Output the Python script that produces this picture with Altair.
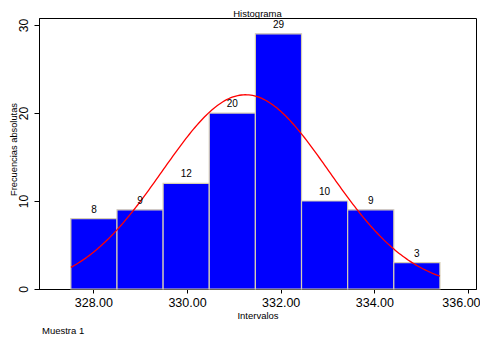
import altair as alt
import numpy as np
import pandas as pd

# Histogram data
edges = [327.52, 328.505, 329.49, 330.475, 331.46, 332.445, 333.43, 334.415, 335.40]
counts = [8, 9, 12, 20, 29, 10, 9, 3]

# Fitted normal curve parameters
mean = 331.25
sd = 1.78
n_total = sum(counts)
bin_w = (edges[-1] - edges[0]) / len(counts)

x_ticks = [328, 330, 332, 334, 336]
y_ticks = [0, 10, 20, 30]

bars = pd.DataFrame({
    "start": edges[:-1],
    "end": edges[1:],
    "count": counts,
})
bars["mid"] = (bars["start"] + bars["end"]) / 2

xs = np.linspace(edges[0], edges[-1], 200)
curve = pd.DataFrame({
    "x": xs,
    "y": n_total * bin_w / (sd * np.sqrt(2 * np.pi)) * np.exp(-0.5 * ((xs - mean) / sd) ** 2),
})

FONT = "Liberation Sans"
W, H = 437, 271
xscale = alt.Scale(domain=[326.84, 336.17], nice=False, zero=False)
yscale = alt.Scale(domain=[0, 30.8], nice=False)

last = x_ticks[-1]
xaxis = alt.Axis(values=x_ticks, format=".2f", title="Intervalos", grid=False,
                 labelFontSize=12.5, titleFontSize=9.5, titleFontWeight="normal",
                 labelAlign={"condition": {"test": f"datum.value == {last}", "value": "right"}, "value": "center"},
                 labelOffset={"condition": {"test": f"datum.value == {last}", "value": 12}, "value": 0},
                 tickSize=4, labelPadding=3, titlePadding=2, domainColor="black",
                 tickColor="black", labelColor="black", titleColor="black",
                 labelFont=FONT, titleFont=FONT)
yaxis = alt.Axis(values=y_ticks, title="Frecuencias absolutas", grid=False,
                 labelFontSize=12, titleFontSize=9.3, titleFontWeight="normal",
                 labelAngle=270, labelAlign="center", labelBaseline="bottom",
                 tickSize=5, labelPadding=4,
                 titleX=-26, titleY=131, titleAngle=270, titleAlign="center",
                 titleBaseline="middle",
                 domainColor="black",
                 tickColor="black", labelColor="black", titleColor="black",
                 labelFont=FONT, titleFont=FONT)

base = alt.Chart(bars)

rects = base.mark_rect(color="#0000FF", stroke="#D6CDB4", strokeWidth=1.2).encode(
    x=alt.X("start:Q", scale=xscale, axis=xaxis),
    x2="end:Q",
    y=alt.Y("count:Q", scale=yscale, axis=yaxis),
    y2=alt.datum(0),
)

labels = base.mark_text(baseline="bottom", dy=-4, fontSize=10, font=FONT, color="black").encode(
    x=alt.X("mid:Q", scale=xscale),
    y=alt.Y("count:Q", scale=yscale),
    text="count:Q",
)

line = alt.Chart(curve).mark_line(color="#FF0000", strokeWidth=1.3).encode(
    x=alt.X("x:Q", scale=xscale),
    y=alt.Y("y:Q", scale=yscale),
)

note = alt.Chart(pd.DataFrame({"t": ["Muestra 1"]})).mark_text(
    align="left", baseline="middle", fontSize=9.5, font=FONT, color="black"
).encode(x=alt.value(3), y=alt.value(313), text="t:N")

chart = alt.layer(rects, line, labels, note).properties(
    width=W,
    height=H,
    title=alt.TitleParams("Histograma", fontSize=9.5, fontWeight="normal", font=FONT,
                          color="black", offset=0, anchor="middle"),
    autosize=alt.AutoSizeParams(type="none"),
    padding={"left": 31, "top": 10, "right": 4, "bottom": 47},
).configure_view(stroke="black", strokeWidth=1)

chart.save("out.html", embed_options={"renderer": "svg", "actions": False})
